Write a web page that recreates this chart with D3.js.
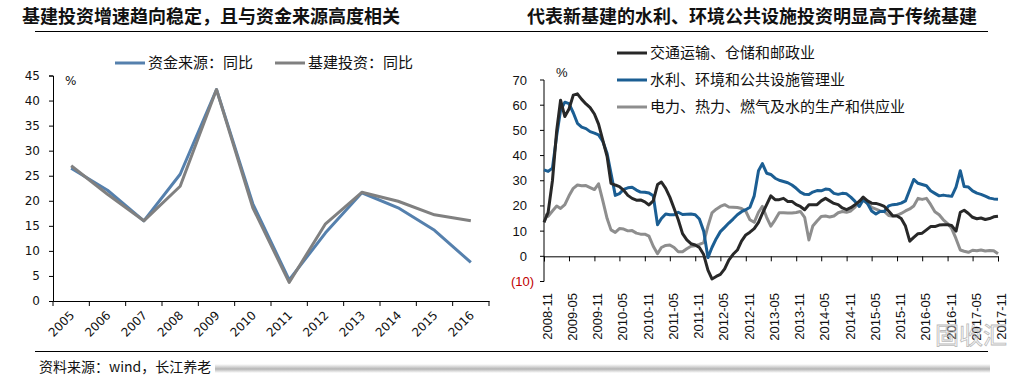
<!DOCTYPE html>
<html lang="zh">
<head>
<meta charset="utf-8">
<title>基建投资</title>
<script src="https://cdn.jsdelivr.net/npm/d3@7/dist/d3.min.js"></script>
<style>
  body { margin: 0; background: #fff; }
  svg { display: block; }
</style>
</head>
<body>
<svg width="1032" height="377" id="mainsvg"></svg>
<script>
  const svg = d3.select('#mainsvg');
  const cjk = '"Noto Sans CJK SC", sans-serif';

  // 左图：年度同比
  const years = ['2005', '2006', '2007', '2008', '2009', '2010', '2011', '2012', '2013', '2014', '2015', '2016'];
  const fundYoY = [26.5, 22.1, 16, 25.3, 42.2, 19.4, 4.2, 13.6, 21.6, 18.6, 14.1, 7.7];
  const infraYoY = [27, 21.3, 16, 22.9, 42.2, 18.6, 3.7, 15.4, 21.7, 19.9, 17.2, 16];
  const leftNames = ['资金来源：同比', '基建投资：同比'];
  const leftTicks = [0, 5, 10, 15, 20, 25, 30, 35, 40, 45];

  // 右图：分行业月度同比 2008-11 ~ 2017-11
  const rightNames = ['交通运输、仓储和邮政业', '水利、环境和公共设施管理业', '电力、热力、燃气及水的生产和供应业'];
  const transport = [13.5, 17.5, 30, 50, 62, 55.5, 58.5, 64, 64.5, 62.3, 60.5, 59, 56.5, 52.5, 46, 39.6, 29, 28.3, 27.7, 26.2,
    24.2, 23, 22.3, 22.4, 21.6, 20.4, 22, 28.5, 29.5, 27, 23.5, 19, 14.5, 9, 6.5, 5, 4.5, 3.5, 0.7, -5.5,
    -9, -8, -7.2, -5, -1.5, 0.8, 2.5, 6, 8.5, 9.6, 11, 13.5, 17, 20.5, 24, 22.5, 22.5, 23, 21.8, 21.8,
    20.5, 19.8, 18.5, 20.5, 20.5, 20.5, 22, 23, 22, 21, 20.5, 19.2, 18.5, 19.3, 20.5, 21.8, 23.5, 22, 21.1, 21,
    20.5, 19.8, 18, 16.1, 16, 15, 12, 6, 7.5, 9, 9.2, 10.5, 11.8, 11.8, 12.4, 12.5, 12.5, 12.2, 10, 17.5,
    18.3, 17, 15.5, 14.9, 15.2, 14.6, 15, 15.7, 15.9];
  const water = [34.3, 33.7, 35, 47.9, 58, 61.2, 60.6, 57, 52.8, 51.3, 50.7, 49.5, 48.9, 48.2, 45.6, 40.8, 33, 24.2, 24.9, 26.6,
    27.2, 27.4, 26.3, 25.5, 25.4, 25.1, 24, 12.5, 15, 16.8, 16.5, 16.5, 17.5, 16.6, 16.7, 16.8, 16.5, 14.8, 10, -0.5,
    3.5, 7, 9.8, 11.5, 13.2, 14.8, 16.5, 17.7, 18.5, 19.5, 24, 34, 36.8, 33, 32.5, 31, 30.2, 29.7, 29.2, 28.3,
    27, 25.5, 24.6, 24.5, 25.5, 26.1, 26, 26.7, 26.5, 25, 24.6, 25, 24.8, 23.5, 21.8, 19.8, 22.5, 21, 18, 16.8,
    17.8, 17.8, 20, 20.5, 20.7, 21.1, 22, 26.4, 30.5, 29, 28.5, 28, 26, 25, 24, 24.3, 24, 23.8, 27.5, 34,
    27.7, 27.5, 26, 25.1, 24.6, 23.9, 23.1, 22.8, 22.7];
  const power = [16.5, 15.9, 18, 20, 19, 20.5, 24, 27, 28.3, 28, 28.1, 27.3, 26.5, 28.8, 22, 15, 10.5, 9.5, 11, 10.8,
    10.1, 10.2, 9.2, 8.8, 8.8, 8, 4, 1, 3.5, 4.3, 4.5, 3.5, 1.8, 1.8, 3, 4, 4.2, 4.7, 5.4, 12,
    17.2, 18.7, 19.8, 20.5, 19.6, 19.5, 19.4, 19, 17.9, 14.5, 13.5, 17.5, 19.8, 15.5, 12, 14.5, 17.3, 17.3, 17.2, 17.2,
    17.4, 17.8, 15.5, 6.5, 12, 14, 15.8, 16, 15.6, 16, 17.3, 17.8, 17.5, 18, 19.5, 22, 22.2, 21, 19.4, 18.7,
    18, 17.8, 16.2, 15.9, 16.3, 17, 18, 18.8, 20, 23, 22.6, 23, 20.6, 17.7, 16.5, 14.5, 13, 11, 7, 2.5,
    2, 1.6, 2.4, 2.2, 2.5, 2.1, 2.3, 2.2, 1];
  const xTickLabels = ['2008-11', '2009-05', '2009-11', '2010-05', '2010-11', '2011-05', '2011-11', '2012-05', '2012-11', '2013-05',
    '2013-11', '2014-05', '2014-11', '2015-05', '2015-11', '2016-05', '2016-11', '2017-05', '2017-11'];
  const rightTicks = [-10, 0, 10, 20, 30, 40, 50, 60, 70];

  const parseMonth = d3.timeParse('%Y-%m');
  const months = d3.timeMonth.range(parseMonth('2008-11'), d3.timeMonth.offset(parseMonth('2017-11'), 1));

  // 标题与分隔线
  svg.append('text').text('基建投资增速趋向稳定，且与资金来源高度相关')
    .attr('x', 22).attr('y', 23)
    .attr('font-family', cjk).attr('font-weight', 700).attr('font-size', 18).attr('fill', '#111');
  svg.append('text').text('代表新基建的水利、环境公共设施投资明显高于传统基建')
    .attr('x', 527).attr('y', 23)
    .attr('font-family', cjk).attr('font-weight', 700).attr('font-size', 18).attr('fill', '#111');
  svg.append('line').attr('x1', 35).attr('x2', 988).attr('y1', 31.5).attr('y2', 31.5).attr('stroke', '#000');
  svg.append('line').attr('x1', 35).attr('x2', 988).attr('y1', 351.5).attr('y2', 351.5).attr('stroke', '#000');

  const grad = svg.append('defs').append('linearGradient')
    .attr('id', 'shade').attr('x1', 0).attr('y1', 0).attr('x2', 0).attr('y2', 1);
  grad.append('stop').attr('offset', '0%').attr('stop-color', '#fff');
  grad.append('stop').attr('offset', '55%').attr('stop-color', '#b5b5b5');
  grad.append('stop').attr('offset', '100%').attr('stop-color', '#fff');
  svg.append('rect').attr('x', 215).attr('y', 364).attr('width', 775).attr('height', 9).attr('fill', 'url(#shade)');
  svg.append('text').text('资料来源：wind，长江养老')
    .attr('x', 39).attr('y', 372)
    .attr('font-family', cjk).attr('font-size', 14).attr('fill', '#111');

  // ---------- 左图 ----------
  const xL = d3.scaleBand().domain(years).range([53, 489]);
  const yL = d3.scaleLinear().domain([0, 45]).range([301, 75.5]);
  const gL = svg.append('g');

  const yAxisL = gL.append('g').attr('transform', 'translate(53,0)')
    .call(d3.axisLeft(yL).tickValues(leftTicks).tickSize(4).tickPadding(9));
  yAxisL.selectAll('text').attr('font-family', '"DejaVu Sans"').attr('font-size', 12).attr('fill', '#111');

  const xAxisL = gL.append('g').attr('transform', 'translate(0,301)')
    .call(d3.axisBottom(xL).tickSize(0).tickFormat(''));
  xAxisL.selectAll('.tick').remove();
  xAxisL.selectAll('.sep').data(d3.range(years.length + 1)).enter().append('line')
    .attr('x1', i => 53 + i * xL.step()).attr('x2', i => 53 + i * xL.step())
    .attr('y1', 0).attr('y2', 5).attr('stroke', '#000');
  gL.selectAll('.ylab').data(years).enter().append('text')
    .text(d => d)
    .attr('transform', d => `translate(${xL(d) + xL.bandwidth() / 2 + 4},${316}) rotate(-45)`)
    .attr('text-anchor', 'end')
    .attr('font-family', '"DejaVu Sans"').attr('font-size', 12).attr('fill', '#111');
  gL.selectAll('.domain').attr('stroke', '#000');

  gL.append('text').text('%').attr('x', 65).attr('y', 85)
    .attr('font-family', '"DejaVu Sans"').attr('font-size', 12).attr('fill', '#111');

  const lineL = d3.line().x((d, i) => xL(years[i]) + xL.bandwidth() / 2).y(d => yL(d));
  const leftColors = ['#5580ad', '#808080'];
  [fundYoY, infraYoY].forEach((s, k) => {
    gL.append('path').datum(s).attr('d', lineL)
      .attr('fill', 'none').attr('stroke', leftColors[k]).attr('stroke-width', 3)
      .attr('stroke-linejoin', 'round');
  });
  // 图例
  const legL = [[115, 148], [275, 308]];
  leftNames.forEach((n, k) => {
    gL.append('line').attr('x1', legL[k][0]).attr('x2', legL[k][0] + 30).attr('y1', 63).attr('y2', 63)
      .attr('stroke', leftColors[k]).attr('stroke-width', 3);
    gL.append('text').text(n).attr('x', legL[k][1]).attr('y', 68)
      .attr('font-family', cjk).attr('font-size', 15).attr('fill', '#111');
  });

  // ---------- 右图 ----------
  const xR = d3.scaleTime().domain([parseMonth('2008-11'), parseMonth('2017-11')]).range([544, 998]);
  const yR = d3.scaleLinear().domain([-10, 70]).range([281.5, 80]);
  const gR = svg.append('g');

  gR.append('line').attr('x1', 544).attr('x2', 544).attr('y1', yR(70)).attr('y2', yR(-10)).attr('stroke', '#000');
  gR.selectAll('.ytick').data(rightTicks).enter().append('line')
    .attr('x1', 540).attr('x2', 544).attr('y1', d => yR(d)).attr('y2', d => yR(d)).attr('stroke', '#000');
  gR.selectAll('.ylab').data(rightTicks).enter().append('text')
    .text(d => d < 0 ? `(${-d})` : d)
    .attr('x', d => d < 0 ? 534 : 527).attr('y', d => yR(d) + 4.5)
    .attr('text-anchor', 'end')
    .attr('font-family', '"Liberation Sans"').attr('font-size', 13)
    .attr('fill', d => d < 0 ? '#c00000' : '#111');

  const tickDates = xTickLabels.map(parseMonth);
  const xAxisR = gR.append('g').attr('transform', `translate(0,${yR(0)})`)
    .call(d3.axisBottom(xR).tickValues(tickDates).tickSize(5).tickFormat(''));
  xAxisR.selectAll('.domain').attr('stroke', '#000');
  xAxisR.selectAll('line').attr('stroke', '#000');
  gR.selectAll('.xlab').data(xTickLabels).enter().append('text')
    .text(d => d)
    .attr('transform', d => `translate(${xR(parseMonth(d)) + 8},293) rotate(-90)`)
    .attr('text-anchor', 'end')
    .attr('font-family', '"Liberation Sans"').attr('font-size', 13).attr('fill', '#111');

  gR.append('text').text('%').attr('x', 556).attr('y', 77)
    .attr('font-family', '"Liberation Sans"').attr('font-size', 13).attr('fill', '#111');

  const rightColors = ['#282828', '#1b5e93', '#8e8e8e'];
  const lineR = d3.line().x((d, i) => xR(months[i])).y(d => yR(d));
  [power, water, transport].forEach((s, k) => {
    gR.append('path').datum(s).attr('d', lineR)
      .attr('fill', 'none').attr('stroke', rightColors[2 - k]).attr('stroke-width', 3)
      .attr('stroke-linejoin', 'round');
  });
  rightNames.forEach((n, k) => {
    const y = 53 + k * 27;
    gR.append('line').attr('x1', 617).attr('x2', 647).attr('y1', y).attr('y2', y)
      .attr('stroke', rightColors[k]).attr('stroke-width', 3);
    gR.append('text').text(n).attr('x', 650).attr('y', y + 5)
      .attr('font-family', cjk).attr('font-size', 15).attr('fill', '#111');
  });

  // 水印
  svg.append('text').text('固收汇').attr('x', 935).attr('y', 344)
    .attr('font-family', cjk).attr('font-size', 24)
    .attr('fill', 'none').attr('stroke', '#aaa').attr('stroke-width', 0.8).attr('opacity', 0.8);
</script>
</body>
</html>
